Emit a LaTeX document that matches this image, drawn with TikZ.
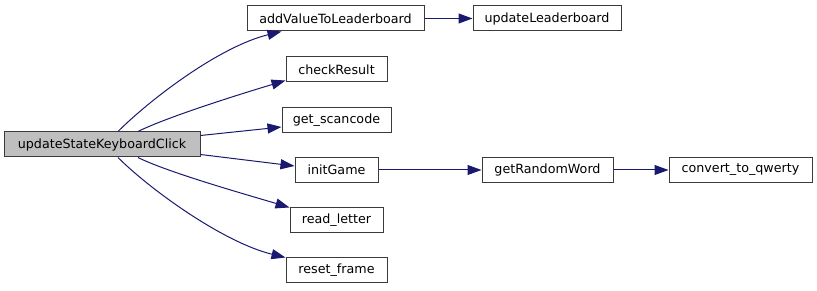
\documentclass[tikz,border=0pt]{standalone}
\usepackage{fontspec}
\setmainfont{DejaVu Sans}
\usetikzlibrary{arrows.meta}
\definecolor{edgeblue}{HTML}{191970}
\definecolor{boxline}{HTML}{3A3A3A}
\definecolor{rootfill}{HTML}{BFBFBF}
\begin{document}
\begin{tikzpicture}[x=1pt,y=-1pt,
  fn/.style={draw=boxline,line width=1pt,fill=white,minimum height=25pt,
    inner sep=0pt,font=\fontsize{12.7}{15}\selectfont},
  rootfn/.style={fn,fill=rootfill},
  call/.style={draw=edgeblue,line width=1pt,
    -{Triangle[length=14pt,width=10pt]}}]
\useasboundingbox (0,0) rectangle (817,291);

% functions
\node[rootfn,minimum width=196pt] (root) at (102,144.5) {updateStateKeyboardClick};
\node[fn,minimum width=177pt] (addval) at (335.5,18.5) {addValueToLeaderboard};
\node[fn,minimum width=148pt] (updlb) at (547,18.5) {updateLeaderboard};
\node[fn,minimum width=101pt] (check) at (336.5,69.5) {checkResult};
\node[fn,minimum width=109pt] (scan) at (336.5,120) {get\_scancode};
\node[fn,minimum width=83pt] (init) at (336.5,170) {initGame};
\node[fn,minimum width=93pt] (readl) at (336.5,220.5) {read\_letter};
\node[fn,minimum width=101pt] (reset) at (336.5,270.5) {reset\_frame};
\node[fn,minimum width=131pt] (randw) at (547.5,170) {getRandomWord};
\node[fn,minimum width=143pt] (qwerty) at (740.5,170) {convert\_to\_qwerty};

% calls
\draw[call] ([xshift=16pt]root.north) .. controls +(32,-32) and +(-62,15) .. ([xshift=35pt]addval.south west);
\draw[call] ([xshift=36pt]root.north) .. controls +(30,-15) and +(-40,12) .. ([yshift=2pt]check.south west);
\draw[call] ([yshift=-4pt]root.north east) -- ([yshift=-7pt]scan.west);
\draw[call] ([yshift=3pt]root.south east) -- ([yshift=4pt]init.west);
\draw[call] ([xshift=36pt]root.south) .. controls +(30,15) and +(-40,-12) .. (readl.north west);
\draw[call] ([xshift=16pt]root.south) .. controls +(32,32) and +(-62,-15) .. (reset.north west);
\draw[call] (addval) -- (updlb);
\draw[call] (init) -- (randw);
\draw[call] (randw) -- (qwerty);
\end{tikzpicture}
\end{document}
